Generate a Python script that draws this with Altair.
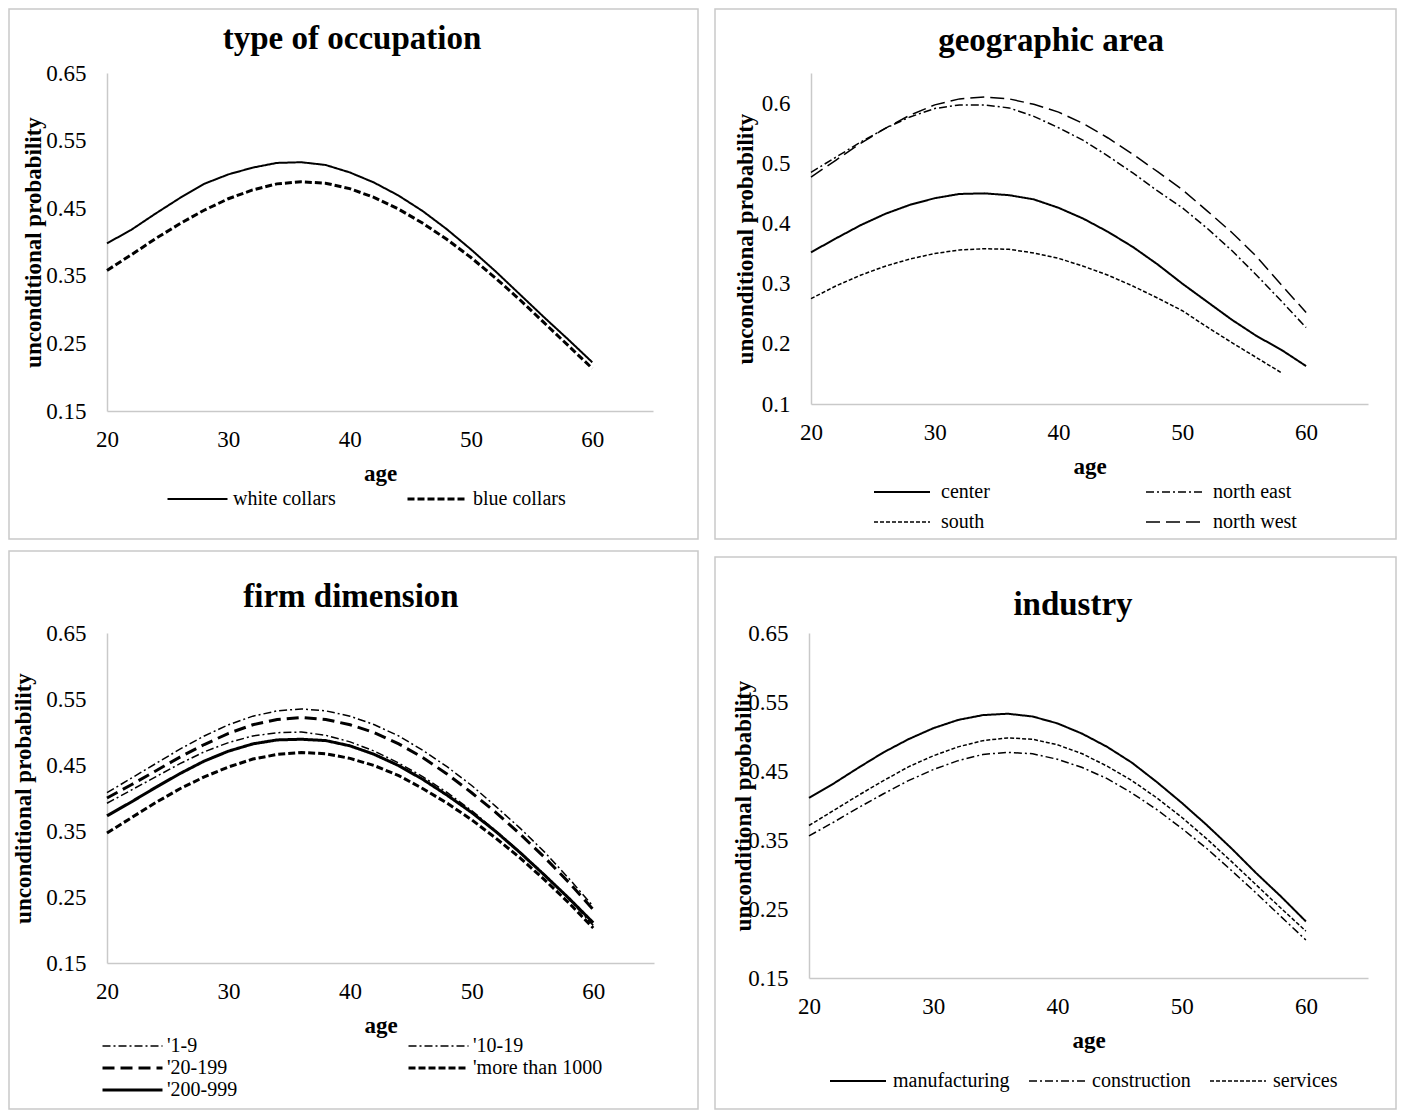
import altair as alt
import pandas as pd

ages = [20, 22, 24, 26, 28, 30, 32, 34, 36, 38, 40, 42, 44, 46, 48, 50, 52, 54, 56, 58, 60]

# --- type of occupation ---
occ_names = ["white collars", "blue collars"]
white_collars = [0.398, 0.418, 0.442, 0.465, 0.486, 0.500, 0.510, 0.517, 0.518, 0.514, 0.503,
                 0.488, 0.469, 0.446, 0.419, 0.389, 0.357, 0.323, 0.289, 0.256, 0.222]
blue_collars = [0.358, 0.381, 0.405, 0.427, 0.447, 0.464, 0.477, 0.486, 0.489, 0.487, 0.479,
                0.466, 0.449, 0.428, 0.404, 0.377, 0.347, 0.315, 0.281, 0.247, 0.213]

# --- geographic area ---
geo_names = ["center", "north east", "south", "north west"]
center = [0.352, 0.375, 0.397, 0.416, 0.431, 0.442, 0.449, 0.450, 0.447, 0.440, 0.426,
          0.408, 0.386, 0.361, 0.332, 0.300, 0.270, 0.240, 0.213, 0.190, 0.163]
north_east = [0.485, 0.510, 0.535, 0.558, 0.577, 0.591, 0.597, 0.597, 0.592, 0.578, 0.559,
              0.538, 0.512, 0.484, 0.454, 0.426, 0.392, 0.355, 0.314, 0.271, 0.227]
south = [0.275, 0.296, 0.314, 0.329, 0.341, 0.350, 0.356, 0.358, 0.357, 0.351, 0.342,
         0.329, 0.314, 0.296, 0.276, 0.255, 0.228, 0.202, 0.177, 0.152, None]
north_west = [0.477, 0.505, 0.533, 0.558, 0.580, 0.597, 0.607, 0.610, 0.607, 0.598, 0.585,
              0.566, 0.542, 0.515, 0.486, 0.456, 0.421, 0.385, 0.345, 0.298, 0.252]

# --- firm dimension ---
firm_names = ["'1-9", "'10-19", "'20-199", "'more than 1000", "'200-999"]
f_1_9 = [0.408, 0.430, 0.452, 0.474, 0.494, 0.511, 0.524, 0.532, 0.535, 0.532, 0.524,
         0.511, 0.494, 0.472, 0.447, 0.419, 0.387, 0.354, 0.318, 0.278, 0.236]
f_10_19 = [0.392, 0.412, 0.432, 0.452, 0.470, 0.484, 0.494, 0.499, 0.500, 0.495, 0.485,
           0.471, 0.453, 0.432, 0.408, 0.381, 0.350, 0.318, 0.284, 0.247, 0.207]
f_20_199 = [0.400, 0.420, 0.441, 0.462, 0.481, 0.498, 0.511, 0.519, 0.522, 0.519, 0.511,
            0.499, 0.482, 0.461, 0.436, 0.408, 0.378, 0.345, 0.310, 0.272, 0.231]
f_more_1000 = [0.347, 0.370, 0.393, 0.414, 0.432, 0.447, 0.459, 0.466, 0.469, 0.467, 0.460,
               0.449, 0.434, 0.414, 0.392, 0.367, 0.339, 0.309, 0.276, 0.241, 0.203]
f_200_999 = [0.373, 0.394, 0.416, 0.437, 0.456, 0.471, 0.482, 0.488, 0.489, 0.487, 0.479,
             0.466, 0.449, 0.428, 0.404, 0.378, 0.349, 0.317, 0.283, 0.248, 0.211]

# --- industry ---
ind_names = ["manufacturing", "construction", "services"]
manufacturing = [0.411, 0.432, 0.455, 0.477, 0.496, 0.512, 0.524, 0.531, 0.533, 0.529, 0.519,
                 0.504, 0.485, 0.462, 0.434, 0.404, 0.372, 0.338, 0.302, 0.268, 0.232]
construction = [0.356, 0.376, 0.397, 0.417, 0.436, 0.452, 0.465, 0.474, 0.477, 0.475, 0.467,
                0.455, 0.439, 0.418, 0.394, 0.367, 0.338, 0.306, 0.273, 0.239, 0.205]
services = [0.371, 0.393, 0.415, 0.436, 0.456, 0.472, 0.485, 0.494, 0.498, 0.496, 0.488,
            0.475, 0.457, 0.436, 0.411, 0.383, 0.352, 0.319, 0.285, 0.251, 0.218]

x_ticks = [20, 30, 40, 50, 60]
y_ticks_a = [0.15, 0.25, 0.35, 0.45, 0.55, 0.65]
y_ticks_b = [0.1, 0.2, 0.3, 0.4, 0.5, 0.6]

FONT = "Liberation Serif"
SOLID = [1, 0]
DASHDOT = [8, 3, 2, 3]
SHORT = [4, 2]
THICKSHORT = [7, 3]
LONG = [14, 6]


def to_long(names, series):
    rows = []
    for n, vals in zip(names, series):
        for a, v in zip(ages, vals):
            if v is not None:
                rows.append({"age": a, "p": v, "series": n})
    return pd.DataFrame(rows)


def panel(title, names, series, dashes, widths, w, h, ydom, yticks, yfmt,
          title_pos, border, ytitle_x, leg):
    df = to_long(names, series)
    legend = alt.Legend(
        title=None, orient="none", legendX=leg["x"], legendY=leg["y"],
        direction="horizontal", columns=leg["cols"], symbolType="stroke",
        symbolSize=leg["sym"] ** 2, symbolStrokeColor="black", clipHeight=20,
        labelFont=FONT, labelFontSize=20, labelColor="black",
        labelOffset=leg["off"], columnPadding=leg["colpad"], rowPadding=leg["rowpad"],
        padding=0, labelLimit=300,
    )
    lines = alt.Chart(df).mark_line(color="black", clip=False).encode(
        x=alt.X("age:Q", scale=alt.Scale(domain=[20, 65], nice=False, zero=False),
                axis=alt.Axis(values=x_ticks, format="d", title="age", titleY=62,
                              titleBaseline="middle", labelPadding=17, labelFlush=False)),
        y=alt.Y("p:Q", scale=alt.Scale(domain=ydom, nice=False, zero=False),
                axis=alt.Axis(values=yticks, format=yfmt, title="unconditional  probability",
                              titleX=ytitle_x, titleY=h / 2, titleAngle=270,
                              titleAlign="center", titleBaseline="middle", labelPadding=21,
                              labelFlush=False)),
        strokeDash=alt.StrokeDash("series:N", scale=alt.Scale(domain=names, range=dashes),
                                  legend=legend),
        strokeWidth=alt.StrokeWidth("series:N",
                                    scale=alt.Scale(type="ordinal", domain=names, range=widths),
                                    legend=legend),
        order=alt.Order("age:Q"),
    )
    one = alt.Data(values=[{"k": 1}])
    frame = alt.Chart(one).mark_rect(fill="white", fillOpacity=0, stroke="#c9c9c9",
                                     strokeWidth=1.5).encode(
        x=alt.value(border[0]), x2=alt.value(w + border[1]),
        y=alt.value(border[2]), y2=alt.value(h + border[3]),
    )
    ttl = alt.Chart(one).mark_text(font=FONT, fontSize=33, fontWeight="bold", color="black",
                                   align="center", baseline="middle").encode(
        x=alt.value(title_pos[0]), y=alt.value(title_pos[1]), text=alt.value(title),
    )
    return alt.layer(frame, lines, ttl).properties(width=w, height=h)


p1 = panel("type of occupation", occ_names, [white_collars, blue_collars],
           [SOLID, THICKSHORT], [2, 3], 546, 338, [0.15, 0.65], y_ticks_a, ".2f",
           (245, -34), (-98, 45, -64, 128), -74,
           dict(x=59, y=416, cols=2, sym=60, off=4, colpad=70, rowpad=10))
p2 = panel("geographic area", geo_names, [center, north_east, south, north_west],
           [SOLID, DASHDOT, SHORT, LONG], [2, 1.5, 1.5, 1.5], 557, 331, [0.1, 0.65],
           y_ticks_b, ".1f",
           (240, -32), (-96, 28, -64, 135), -66,
           dict(x=62, y=409, cols=2, sym=56, off=10, colpad=155, rowpad=10))
p3 = panel("firm dimension", firm_names, [f_1_9, f_10_19, f_20_199, f_more_1000, f_200_999],
           [DASHDOT, DASHDOT, [12, 6], THICKSHORT, SOLID], [1.5, 1.5, 3, 3, 3],
           547, 330, [0.15, 0.65], y_ticks_a, ".2f",
           (244, -36), (-98, 44, -82, 146), -84,
           dict(x=-6, y=403, cols=2, sym=60, off=3, colpad=169, rowpad=2))
p4 = panel("industry", ind_names, [manufacturing, construction, services],
           [SOLID, DASHDOT, SHORT], [2, 1.5, 1.5], 559, 345, [0.15, 0.65], y_ticks_a, ".2f",
           (264, -28), (-94, 28, -76, 131), -66,
           dict(x=20, y=438, cols=3, sym=56, off=6, colpad=18, rowpad=10))


def row(a, b):
    return alt.hconcat(a, b, spacing=15).resolve_scale(
        x="independent", y="independent", strokeDash="independent", strokeWidth="independent"
    ).resolve_legend(strokeDash="independent", strokeWidth="independent")


chart = alt.vconcat(row(p1, p2), row(p3, p4), spacing=10).resolve_scale(
    x="independent", y="independent", strokeDash="independent", strokeWidth="independent"
).resolve_legend(strokeDash="independent", strokeWidth="independent").properties(
    padding=0, background="white"
).configure_view(stroke=None).configure_axis(
    domainColor="#c9c9c9", domainWidth=1.5, ticks=False, grid=False,
    labelFont=FONT, labelFontSize=23, labelColor="black",
    titleFont=FONT, titleFontSize=23, titleFontWeight="bold", titleColor="black",
)

chart.save("out.html", embed_options={"renderer": "svg", "actions": False})
